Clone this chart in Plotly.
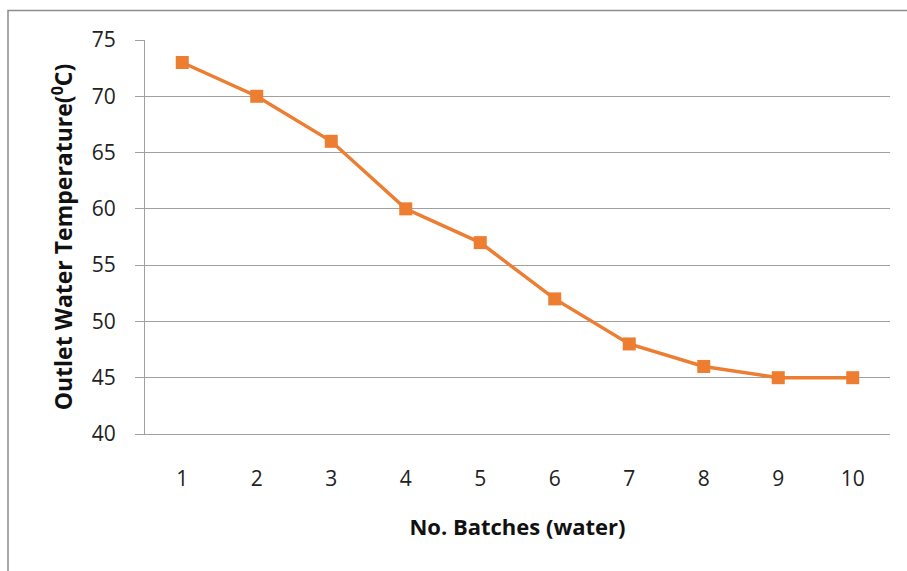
import plotly.graph_objects as go

# Outlet water temperature per batch
batches = [1, 2, 3, 4, 5, 6, 7, 8, 9, 10]
temperature = [73, 70, 66, 60, 57, 52, 48, 46, 45, 45]
y_ticks = [40, 45, 50, 55, 60, 65, 70, 75]

ORANGE = "#ED7D31"
GRID = "#A0A0A0"
FONT = "Open Sans, Liberation Sans, sans-serif"

W, H = 907, 571
L, R, T, B = 145, 17, 40, 137
pw, ph = W - L - R, H - T - B

fig = go.Figure(
    go.Scatter(
        x=batches,
        y=temperature,
        mode="lines+markers",
        line=dict(color=ORANGE, width=3.5),
        marker=dict(symbol="square", size=13, color=ORANGE),
        showlegend=False,
        cliponaxis=False,
    )
)

fig.update_layout(
    width=W,
    height=H,
    margin=dict(l=L, r=R, t=T, b=B),
    paper_bgcolor="white",
    plot_bgcolor="white",
    font=dict(family=FONT, size=21, color="#222222"),
    xaxis=dict(
        range=[0.5, 10.5],
        tickmode="array",
        tickvals=batches,
        showgrid=False,
        zeroline=False,
        showline=True,
        linecolor=GRID,
        linewidth=1,
        ticks="",
        ticklabelstandoff=26,
        title=dict(text="<b>No. Batches (water)</b>", standoff=28, font=dict(size=22, color="#111111")),
    ),
    yaxis=dict(
        range=[40, 75],
        tickmode="array",
        tickvals=y_ticks,
        showgrid=True,
        gridcolor=GRID,
        gridwidth=1,
        zeroline=False,
        showline=True,
        linecolor=GRID,
        linewidth=1,
        ticks="outside",
        ticklen=9,
        tickcolor=GRID,
        ticklabelstandoff=15,
        title=dict(text="<b>Outlet Water Temperature(<sup>0</sup>C)</b>", standoff=12, font=dict(size=23, color="#111111")),
    ),
    shapes=[
        dict(
            type="rect",
            xref="paper",
            yref="paper",
            x0=(8 - L) / pw,
            x1=(W + 5 - L) / pw,
            y0=-(H + 5 - T - ph) / ph,
            y1=1 + (T - 10.5) / ph,
            line=dict(color="#8C8C8C", width=1.5),
            layer="below",
        )
    ],
)

fig.write_html("out.html")
